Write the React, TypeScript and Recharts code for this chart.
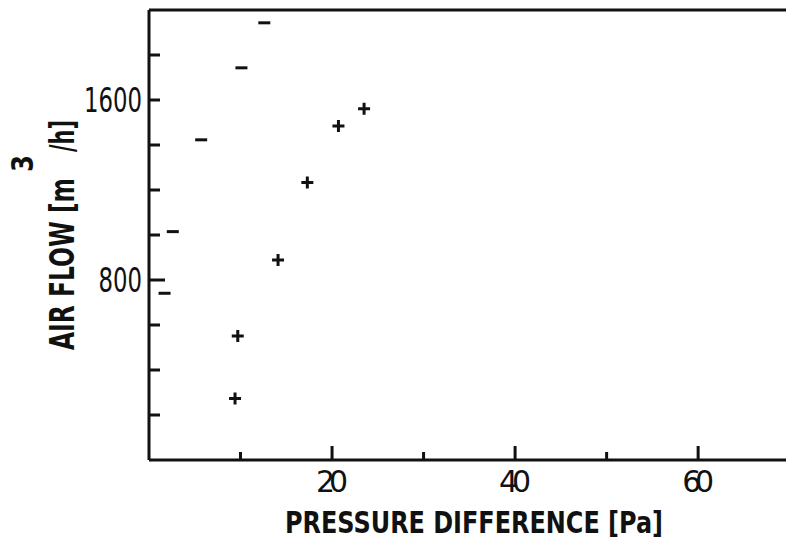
import { ScatterChart, Scatter, XAxis, YAxis, ReferenceLine, Label } from 'recharts';

// "+" series (upper set of measurements)
const plusX = [9.4, 9.7, 14.1, 17.3, 20.7, 23.5];
const plusY = [273, 551, 889, 1233, 1484, 1561];

// "-" series
const minusX = [1.7, 2.6, 5.7, 10.1, 12.6];
const minusY = [741, 1015, 1423, 1743, 1943];

const xTicks = [10, 20, 30, 40, 50, 60];
const xLabeled = [20, 40, 60];
const yTicks = [200, 400, 600, 800, 1000, 1200, 1400, 1600, 1800];
const yLabeled = [800, 1600];

const plusData = plusX.map((x, i) => ({ x, y: plusY[i] }));
const minusData = minusX.map((x, i) => ({ x, y: minusY[i] }));

const font = '"Liberation Sans Narrow", "DejaVu Sans", Arial, sans-serif';
const ink = '#111';

const PlusMark = (props: any) => {
  const { cx, cy } = props;
  return (
    <path
      d={`M${cx - 6},${cy} H${cx + 6} M${cx},${cy - 6} V${cy + 6}`}
      stroke={ink}
      strokeWidth={3}
      fill="none"
    />
  );
};

const MinusMark = (props: any) => {
  const { cx, cy } = props;
  return <path d={`M${cx - 6},${cy} H${cx + 6}`} stroke={ink} strokeWidth={3} fill="none" />;
};

const YTick = (props: any) => {
  const { x, y, payload } = props;
  const v = payload.value;
  const label = String(v);
  return (
    <g>
      <line x1={x} x2={x + (v === 800 ? 16 : 11)} y1={y} y2={y} stroke={ink} strokeWidth={3} />
      {yLabeled.includes(v) && (
        <text
          x={x - 7}
          y={y}
          dy={12}
          textAnchor="end"
          fontFamily={font}
          fontSize={33}
          textLength={label.length * 14.5}
          lengthAdjust="spacingAndGlyphs"
          fill={ink}
        >
          {label}
        </text>
      )}
    </g>
  );
};

const XTick = (props: any) => {
  const { x, y, payload } = props;
  const v = payload.value;
  const major = xLabeled.includes(v);
  return (
    <g>
      <line x1={x} x2={x} y1={y} y2={y - (major ? 14 : 8)} stroke={ink} strokeWidth={3} />
      {major && (
        <text
          x={x - 16}
          y={y + 32}
          fontFamily={font}
          fontSize={30}
          textLength={32}
          lengthAdjust="spacing"
          fill={ink}
        >
          {v}
        </text>
      )}
    </g>
  );
};

export default function App() {
  return (
    <div style={{ position: 'absolute', left: 0, top: 0, width: 786, height: 540, overflow: 'hidden', background: '#fff' }}>
      <ScatterChart width={786} height={540} margin={{ top: 10, right: 0, bottom: 0, left: 0 }}>
        <XAxis
          type="number"
          dataKey="x"
          domain={[0, 69.6]}
          ticks={xTicks}
          tick={<XTick />}
          tickLine={false}
          tickSize={0}
          tickMargin={0}
          height={80}
          axisLine={{ stroke: ink, strokeWidth: 3 }}
        >
          <Label
            content={() => (
              <text
                x={285}
                y={533}
                fontFamily={font}
                fontWeight="bold"
                fontSize={30}
                textLength={378}
                lengthAdjust="spacingAndGlyphs"
                fill={ink}
              >
                PRESSURE DIFFERENCE [Pa]
              </text>
            )}
          />
        </XAxis>
        <YAxis
          type="number"
          dataKey="y"
          domain={[0, 2000]}
          ticks={yTicks}
          tick={<YTick />}
          tickLine={false}
          tickSize={0}
          tickMargin={0}
          width={149}
          axisLine={{ stroke: ink, strokeWidth: 3 }}
        >
          <Label
            content={() => (
              <g transform="translate(74,235) rotate(-90)" fontFamily={font} fontWeight="bold" fill={ink}>
                <text x={-115} y={0} fontSize={33} textLength={172} lengthAdjust="spacingAndGlyphs">
                  AIR FLOW [m
                </text>
                <text x={63} y={-41} fontSize={30} textLength={17} lengthAdjust="spacingAndGlyphs">
                  3
                </text>
                <text x={83} y={0} fontSize={33} textLength={32} lengthAdjust="spacingAndGlyphs">
                  /h]
                </text>
              </g>
            )}
          />
        </YAxis>
        <ReferenceLine y={2000} stroke={ink} strokeWidth={3} />
        <Scatter data={plusData} shape={<PlusMark />} isAnimationActive={false} />
        <Scatter data={minusData} shape={<MinusMark />} isAnimationActive={false} />
      </ScatterChart>
    </div>
  );
}
